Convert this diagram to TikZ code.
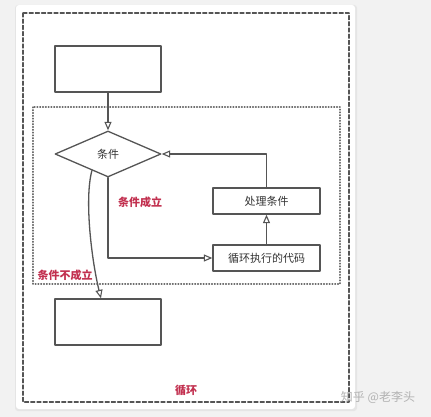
\documentclass[tikz,border=0pt]{standalone}
\usepackage{fontspec}
\setmainfont{Noto Sans CJK SC}
\usetikzlibrary{arrows.meta,shapes.geometric,calc}
\definecolor{linegray}{HTML}{555555}
\definecolor{textgray}{HTML}{333333}
\definecolor{labelred}{HTML}{C2304F}
\begin{document}
\begin{tikzpicture}[x=1pt,y=-1pt,line cap=round,line join=round,
  >={Triangle[open,length=8.5pt,width=7pt,line width=1.1pt]},
  flowbox/.style={draw=linegray,line width=1.3pt,fill=white,inner sep=0pt,text=textgray,font=\fontsize{11}{12}\selectfont},
  cond/.style={flowbox,shape=diamond,minimum width=106pt,minimum height=46pt,font=\fontsize{11}{12}\selectfont},
  flow/.style={draw=linegray,line width=1.3pt},
  redlabel/.style={text=labelred,font=\fontsize{11}{12}\selectfont\bfseries,inner sep=0pt}]
\useasboundingbox (0,0) rectangle (431,417);
\fill[white!95!black] (0,0) rectangle (431,417);
% card
\fill[white!90!black,rounded corners=3pt] (15,5) rectangle (357,411);
\fill[white,rounded corners=3pt] (16,5) rectangle (355,409);
% frames
\draw[linegray,line width=1.3pt,dash pattern=on 4pt off 2.2pt] (23,13) rectangle (349,402);
\draw[linegray!85,line width=1.2pt,dash pattern=on 0.8pt off 2pt] (33,107) rectangle (340,284);
% nodes
\node[flowbox,minimum width=106pt,minimum height=46pt] (start) at (108,69) {};
\node[cond] (check) at (108,154) {条件};
\node[flowbox,minimum width=107pt,minimum height=26pt] (update) at (266.5,201) {处理条件};
\node[flowbox,minimum width=107pt,minimum height=26pt] (body) at (266.5,258) {循环执行的代码};
\node[flowbox,minimum width=106pt,minimum height=46pt] (finish) at (108,322) {};
\coordinate (turn) at (check.south |- body.west);
\coordinate (exit) at ($(check.west)!0.7!(check.south)$);
% connectors
\draw[flow,->] (start) -- (check);
\draw[flow,->] (check.south) -- (turn) -- (body.west);
\draw[flow,->] (body) -- (update);
\draw[flow,->] (update.north) |- (check.east);
\draw[flow,->] (exit) .. controls (84,200) and (92,262) .. (finish.north -| 101,0);
% labels
\node[redlabel] (yes) at (140,202) {条件成立};
\node[redlabel] (no) at (65,275) {条件不成立};
\node[redlabel] (loop) at (186,390) {循环};
\node[text=white!70!black,font=\fontsize{12}{12}\selectfont,inner sep=0pt] (mark) at (378,397) {知乎 @老李头};
\end{tikzpicture}
\end{document}
